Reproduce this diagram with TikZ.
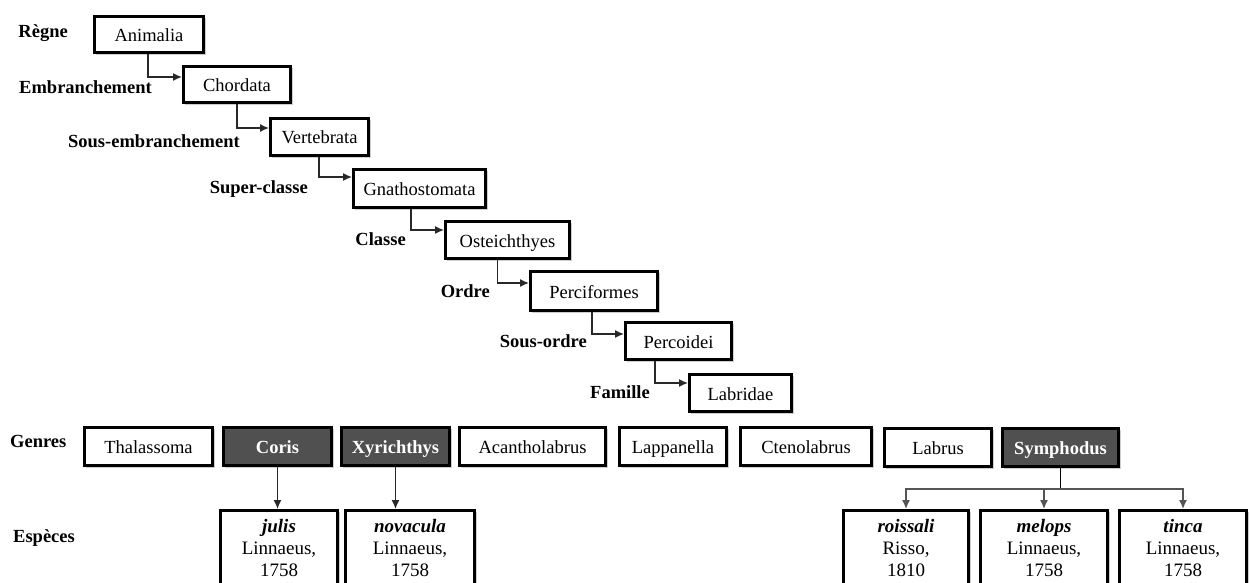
\documentclass[tikz,border=0pt]{standalone}
\usepackage{fontspec}
\setmainfont{Liberation Serif}
\usetikzlibrary{arrows.meta,shadows,calc}
\definecolor{darkfill}{RGB}{80,80,80}
\definecolor{lncol}{RGB}{40,40,40}
\definecolor{brcol}{RGB}{85,85,85}
\newcommand\mybox[7]{%
  \pgfmathsetmacro\bxcx{(#2+#4)/2}\pgfmathsetmacro\bxcy{(#3+#5)/2}%
  \pgfmathsetmacro\bxww{#4-#2-2.8}\pgfmathsetmacro\bxhh{#5-#3-2.8}%
  \node[#6, minimum width=\bxww pt, minimum height=\bxhh pt] (#1) at (\bxcx,\bxcy) {#7};}
\tikzset{
  basebox/.style={draw=black, line width=2.8pt, inner sep=0pt,
    drop shadow={shadow xshift=2pt, shadow yshift=-2pt, opacity=0.35, fill=black!55}},
  box/.style={basebox, fill=white, font=\fontsize{18.5}{20}\selectfont, text height=14pt, text depth=0pt},
  dbox/.style={basebox, fill=darkfill, text=white, font=\fontsize{18.5}{20}\selectfont\bfseries, text height=14pt, text depth=0pt},
  spbox/.style={basebox, fill=white, align=center, font=\fontsize{19}{22}\selectfont},
  lbl/.style={font=\fontsize{18.5}{20}\selectfont\bfseries, inner sep=0pt},
  arr/.style={draw=lncol, line width=1.4pt, -{Latex[length=9pt,width=8pt]}},
  brarr/.style={draw=brcol, line width=1.4pt, -{Latex[length=9pt,width=8pt]}},
  stem/.style={draw=black, line width=1.9pt},
}
\begin{document}
\begin{tikzpicture}[x=1pt,y=-1pt]
\useasboundingbox (0,0) rectangle (1250,583);
% hierarchy
\mybox{ani}{93}{15}{205}{54}{box}{Animalia}
\mybox{cho}{182}{65}{292}{104}{box}{Chordata}
\mybox{ver}{269}{117}{370}{157}{box}{Vertebrata}
\mybox{gna}{352}{168}{487}{209}{box}{Gnathostomata}
\mybox{ost}{444}{220}{571}{260}{box}{Osteichthyes}
\mybox{per}{529}{270}{659}{312}{box}{Perciformes}
\mybox{pco}{624}{321}{733}{361}{box}{Percoidei}
\mybox{lab}{688}{373}{793}{413}{box}{Labridae}
% labels
\node[lbl, anchor=base east] (lreg) at (68,38) {Règne};
\node[lbl, anchor=base east] (lemb) at (152,94) {Embranchement};
\node[lbl, anchor=base east] (lsem) at (240,147) {Sous-embranchement};
\node[lbl, anchor=base east] (lsup) at (308,193) {Super-classe};
\node[lbl, anchor=base east] (lcla) at (406,245) {Classe};
\node[lbl, anchor=base east] (lord) at (490,297) {Ordre};
\node[lbl, anchor=base east] (lsor) at (587,347) {Sous-ordre};
\node[lbl, anchor=base east] (lfam) at (650,398) {Famille};
\node[lbl, anchor=base west] (lgen) at (10,447) {Genres};
\node[lbl, anchor=base west] (lesp) at (13,542) {Espèces};
% hierarchy connectors
\draw[arr] ([xshift=-1pt]ani.south) |- ([yshift=-12pt]cho.north west);
\draw[arr] (cho.south) |- ([yshift=-11pt]ver.north west);
\draw[arr] ([xshift=-0.5pt]ver.south) |- ([yshift=-9pt]gna.north west);
\draw[arr] ([xshift=-8.5pt]gna.south) |- ([yshift=-10pt]ost.north west);
\draw[arr] ([xshift=-10pt]ost.south) |- ([yshift=-13pt]per.north west);
\draw[arr] ([xshift=-2pt]per.south) |- ([yshift=-13pt]pco.north west);
\draw[arr] ([xshift=-23.5pt]pco.south) |- ([yshift=-10pt]lab.north west);
% genera
\mybox{tha}{83}{426}{214}{467}{box}{Thalassoma}
\mybox{cor}{222}{426}{333}{467}{dbox}{Coris}
\mybox{xyr}{340}{426}{451}{467}{dbox}{Xyrichthys}
\mybox{aca}{458}{426}{607}{467}{box}{Acantholabrus}
\mybox{lap}{618}{426}{728}{467}{box}{Lappanella}
\mybox{cte}{739}{426}{873}{467}{box}{Ctenolabrus}
\mybox{lbr}{883}{427}{993}{468}{box}{Labrus}
\mybox{sym}{1001}{427}{1120}{468}{dbox}{Symphodus}
% species
\mybox{jul}{219}{509}{339}{587}{spbox}{\textbf{\textit{julis}}\\Linnaeus,\\1758}
\mybox{nov}{344}{509}{476}{587}{spbox}{\textbf{\textit{novacula}}\\Linnaeus,\\1758}
\mybox{roi}{842}{509}{970}{587}{spbox}{\textbf{\textit{roissali}}\\Risso,\\1810}
\mybox{mel}{979}{509}{1109}{587}{spbox}{\textbf{\textit{melops}}\\Linnaeus,\\1758}
\mybox{tin}{1118}{509}{1248}{587}{spbox}{\textbf{\textit{tinca}}\\Linnaeus,\\1758}
% genus -> species
\draw[arr] (cor.south) -- (cor.south |- jul.north);
\draw[arr] (xyr.south) -- (xyr.south |- nov.north);
\draw[stem] (sym.south) -- ($(sym.south)+(0,21)$) coordinate (bj);
\draw[brarr] (bj) -| (roi.north);
\draw[brarr] (bj) -| (mel.north);
\draw[brarr] (bj) -| (tin.north);
\end{tikzpicture}
\end{document}
